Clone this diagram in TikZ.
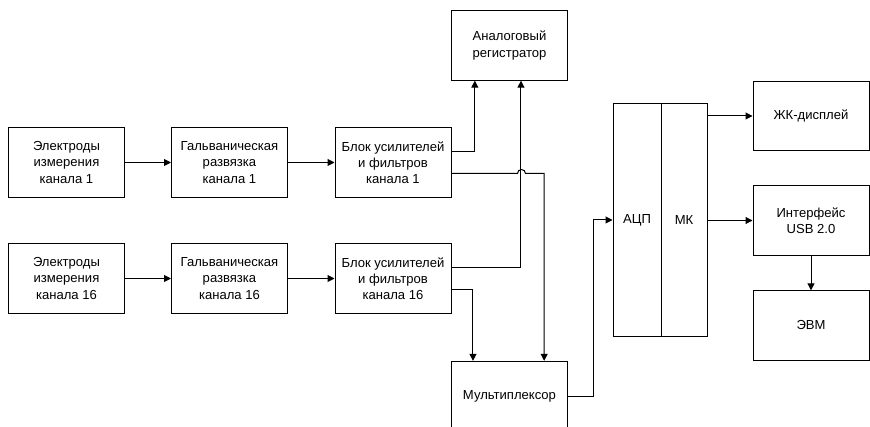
\documentclass[tikz,border=0pt]{standalone}
\usepackage{fontspec}
\setmainfont{Liberation Sans}
\usepackage{tikz}
\usetikzlibrary{arrows.meta,positioning}
\tikzset{
  blok/.style={draw, line width=0.75pt, minimum width=87pt, minimum height=52pt,
    inner sep=0pt, align=center, font=\fontsize{9.8}{12.2}\selectfont},
  half/.style={blok, minimum width=36pt, minimum height=174pt},
  arr/.style={-{Triangle[length=5.25pt,width=5.25pt]}, line width=0.75pt},
  wire/.style={line width=0.75pt}
}

\begin{document}
\begin{tikzpicture}[x=0.75pt, y=-0.75pt]
  \useasboundingbox (0,0) rectangle (870,427);
  % channel 1
  \node[blok] (el1) at (66.5,162.5) {Электроды\\измерения\\канала 1};
  \node[blok] (gal1) at (229.5,162.5) {Гальваническая\\развязка\\канала 1};
  \node[blok] (amp1) at (393,162.5) {Блок усилителей\\и фильтров\\канала 1};
  % channel 16
  \node[blok] (el16) at (66.5,278.5) {Электроды\\измерения\\канала 16};
  \node[blok] (gal16) at (229.5,278.5) {Гальваническая\\развязка\\канала 16};
  \node[blok] (amp16) at (393,278.5) {Блок усилителей\\и фильтров\\канала 16};
  \node[blok] (reg) at (509.5,45.5) {Аналоговый\\регистратор};
  \node[blok] (mux) at (509.5,396) {Мультиплексор};
  \node[half] (adc) at (637,220) {АЦП};
  \node[half, minimum width=34.5pt] (mcu) at (684,220) {МК};
  \node[blok] (lcd) at (811,116) {ЖК-дисплей};
  \node[blok] (usb) at (811,220.5) {Интерфейс\\USB 2.0};
  \node[blok] (pc) at (811,325.5) {ЭВМ};

  \draw[arr] (el1) -- (gal1);
  \draw[arr] (gal1) -- (amp1);
  \draw[arr] (el16) -- (gal16);
  \draw[arr] (gal16) -- (amp16);

  \draw[arr] ([yshift=8.25pt]amp1.east) -| ([xshift=-26pt]reg.south);
  \draw[arr] ([yshift=8.6pt]amp16.east) -| ([xshift=8.6pt]reg.south);
  \draw[arr] ([yshift=-8.6pt]amp16.east) -| ([xshift=-27.4pt]mux.north);
  % hop over the line to the recorder
  \draw[arr] ([yshift=-8.25pt]amp1.east) -- ++(66,0)
    arc[start angle=180, end angle=0, radius=3pt] -| ([xshift=26pt]mux.north);

  \draw[arr] (mux.east) -- ++(25,0) |- (adc.west);
  \draw[arr] (mcu.east |- lcd.west) -- (lcd.west);
  \draw[arr] (mcu.east |- usb.west) -- (usb.west);
  \draw[arr] (usb) -- (pc);
\end{tikzpicture}
\end{document}
